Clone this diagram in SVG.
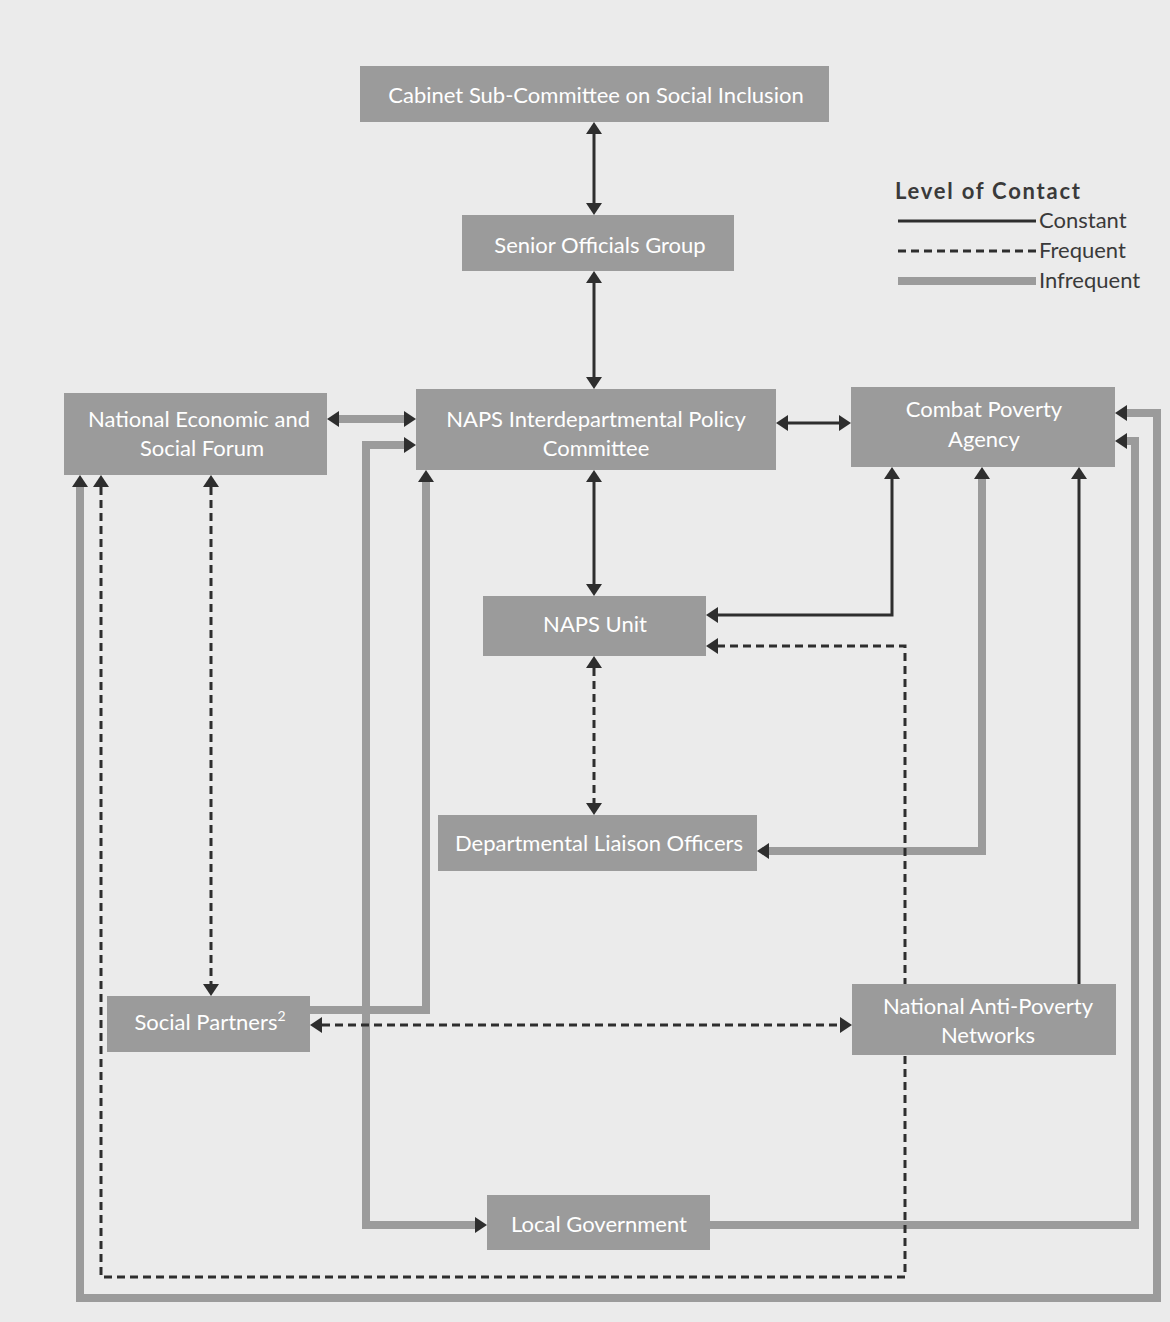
<svg xmlns="http://www.w3.org/2000/svg" width="1170" height="1322" viewBox="0 0 1170 1322">
<defs>
<marker id="ah" viewBox="0 0 12 16" refX="0" refY="8" markerWidth="12" markerHeight="16" markerUnits="userSpaceOnUse" orient="auto-start-reverse">
<path d="M0,0 L12,8 L0,16 z" fill="#2e2e2e"/>
</marker>
<style>
.bg{fill:#ebebeb}
.node rect{fill:#9b9b9b}
.node text{fill:#ffffff;font-family:Lato,"Open Sans","DejaVu Sans",sans-serif;font-size:22px;text-anchor:middle}
.c{fill:none;stroke:#2e2e2e;stroke-width:3}
.f{fill:none;stroke:#2e2e2e;stroke-width:3;stroke-dasharray:8 5}
.i{fill:none;stroke:#9b9b9b;stroke-width:8}
.lg{font-family:Lato,"Open Sans","DejaVu Sans",sans-serif;font-size:22px;fill:#3a3a3a}
</style>
</defs>
<rect class="bg" x="0" y="0" width="1170" height="1322"/>

<g id="legend">
<text class="lg" x="895" y="199" font-weight="bold" font-size="23" textLength="185" lengthAdjust="spacing">Level of Contact</text>
<line class="c" x1="898" y1="221" x2="1036" y2="221"/>
<line class="f" x1="898" y1="251" x2="1036" y2="251"/>
<line class="i" x1="898" y1="281" x2="1036" y2="281" stroke-width="7"/>
<text class="lg" x="1039" y="228">Constant</text>
<text class="lg" x="1039" y="258">Frequent</text>
<text class="lg" x="1039" y="288">Infrequent</text>
</g>

<g id="connectors">
<path class="c" d="M594,134 L594,203" marker-start="url(#ah)" marker-end="url(#ah)"/>
<path class="c" d="M594,283 L594,377" marker-start="url(#ah)" marker-end="url(#ah)"/>
<path class="c" d="M594,482 L594,584" marker-start="url(#ah)" marker-end="url(#ah)"/>
<path class="c" d="M788,423 L839,423" marker-start="url(#ah)" marker-end="url(#ah)"/>
<path class="c" d="M892,479 L892,615 L718,615" marker-start="url(#ah)" marker-end="url(#ah)"/>
<path class="c" d="M1079,984 L1079,479" marker-end="url(#ah)"/>
<path class="i" d="M339,419 L404,419" marker-start="url(#ah)" marker-end="url(#ah)"/>
<path class="i" d="M404,445 L366,445 L366,1225 L475,1225" marker-start="url(#ah)" marker-end="url(#ah)"/>
<path class="i" d="M310,1010 L426,1010 L426,482" marker-end="url(#ah)"/>
<path class="i" d="M710,1225 L1135,1225 L1135,441 L1127,441" marker-end="url(#ah)"/>
<path class="i" d="M80,487 L80,1298 L1157,1298 L1157,413 L1127,413" marker-start="url(#ah)" marker-end="url(#ah)"/>
<path class="i" d="M982,479 L982,851 L769,851" marker-start="url(#ah)" marker-end="url(#ah)"/>
<path class="f" d="M211,487 L211,984" marker-start="url(#ah)" marker-end="url(#ah)"/>
<path class="f" d="M101,487 L101,1277 L905,1277 L905,646 L718,646" marker-start="url(#ah)" marker-end="url(#ah)"/>
<path class="f" d="M594,668 L594,803" marker-start="url(#ah)" marker-end="url(#ah)"/>
<path class="f" d="M322,1025 L840,1025" marker-start="url(#ah)" marker-end="url(#ah)"/>
</g>

<g id="cabinet" class="node"><rect x="360" y="66" width="469" height="56"/><text x="596" y="103">Cabinet Sub-Committee on Social Inclusion</text></g>
<g id="sog" class="node"><rect x="462" y="215" width="272" height="56"/><text x="600" y="253">Senior Officials Group</text></g>
<g id="nesf" class="node"><rect x="64" y="393" width="263" height="82"/><text x="199" y="427">National Economic and</text><text x="202" y="456">Social Forum</text></g>
<g id="ipc" class="node"><rect x="416" y="389" width="360" height="81"/><text x="596" y="427">NAPS Interdepartmental Policy</text><text x="596" y="456">Committee</text></g>
<g id="cpa" class="node"><rect x="851" y="387" width="264" height="80"/><text x="984" y="417">Combat Poverty</text><text x="984" y="447">Agency</text></g>
<g id="unit" class="node"><rect x="483" y="596" width="223" height="60"/><text x="595" y="632">NAPS Unit</text></g>
<g id="dlo" class="node"><rect x="438" y="815" width="319" height="56"/><text x="599" y="851">Departmental Liaison Officers</text></g>
<g id="sp" class="node"><rect x="107" y="996" width="203" height="56"/><text x="210" y="1030">Social Partners<tspan font-size="14" dy="-9">2</tspan></text></g>
<g id="napn" class="node"><rect x="852" y="984" width="264" height="71"/><text x="988" y="1014">National Anti-Poverty</text><text x="988" y="1043">Networks</text></g>
<g id="lg" class="node"><rect x="487" y="1195" width="223" height="55"/><text x="599" y="1232">Local Government</text></g>
</svg>
